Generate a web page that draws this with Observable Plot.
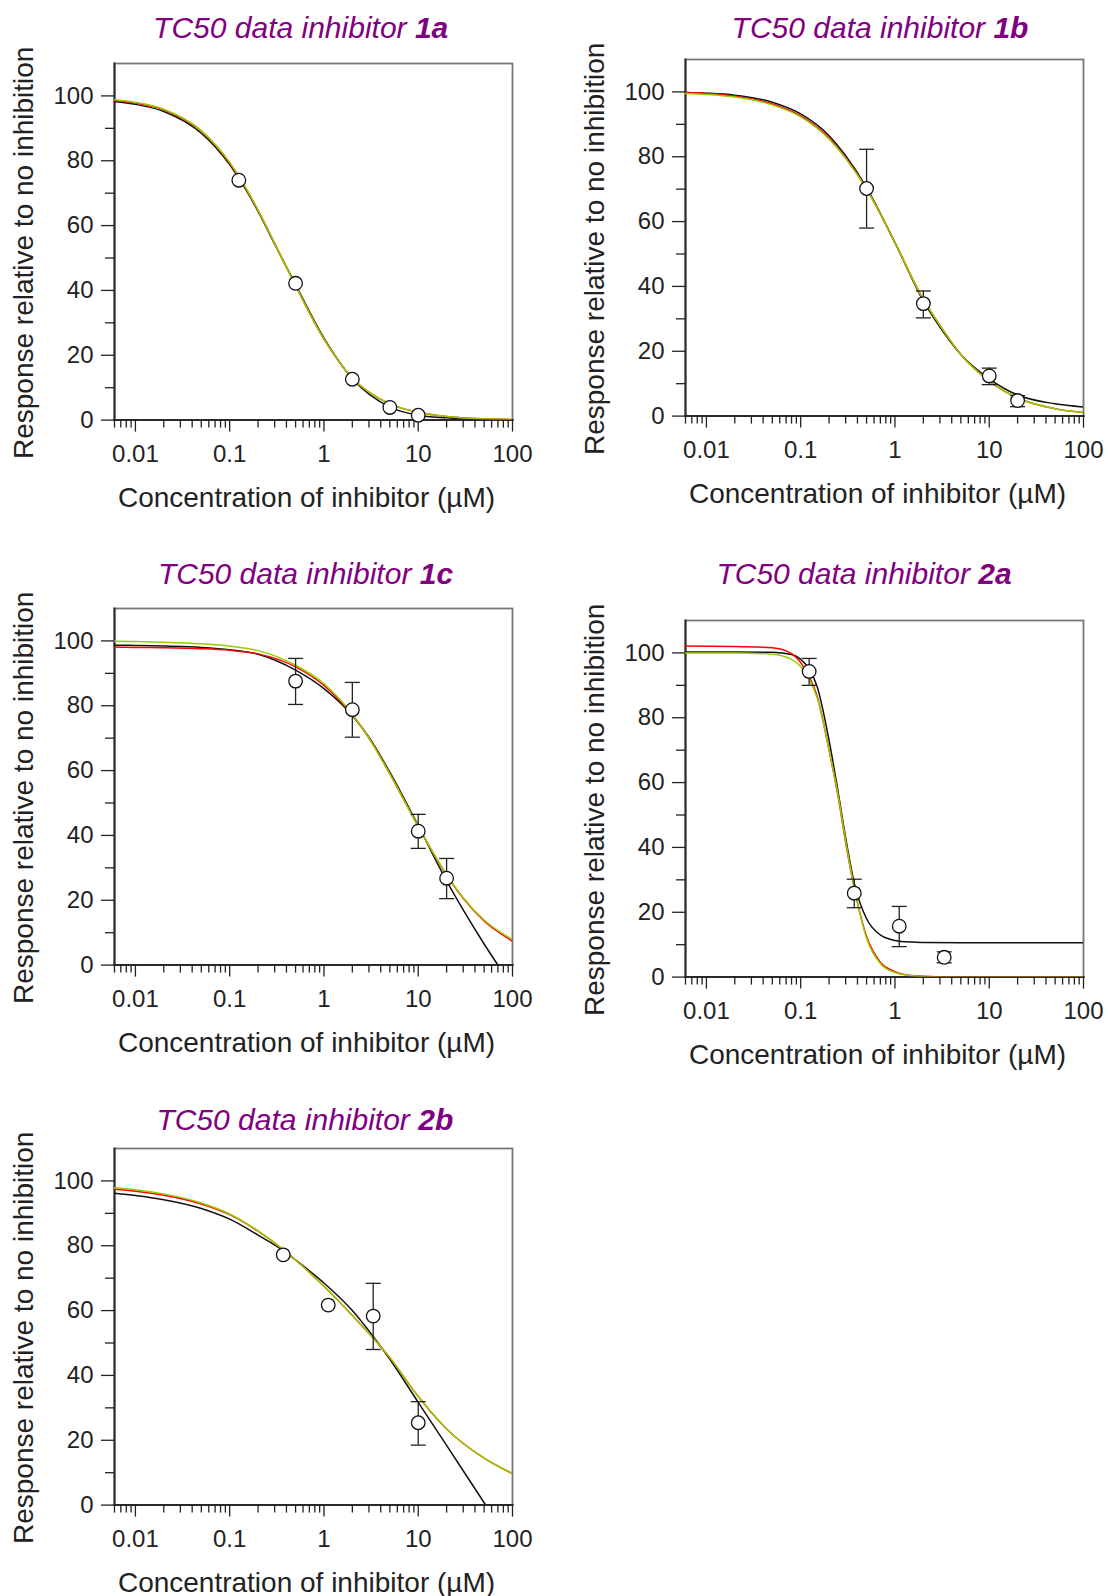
<!DOCTYPE html>
<html>
<head>
<meta charset="utf-8">
<script src="https://cdn.jsdelivr.net/npm/d3@7"></script>
<script src="https://cdn.jsdelivr.net/npm/@observablehq/plot@0.6"></script>
<style>
  html, body { margin: 0; padding: 0; background: #fff; }
  #page { position: relative; width: 1108px; height: 1596px; overflow: hidden;
          font-family: "Liberation Sans", Arial, Helvetica, sans-serif; }
  .panel { position: absolute; width: 554px; }
  .panel svg { max-width: none !important; }
  .title { position: absolute; font-size: 30px; line-height: 30px; color: #800080;
           font-style: italic; white-space: nowrap; transform: translateX(-50%); }
  .title b { font-weight: bold; }
</style>
</head>
<body>
<div id="page"></div>
<script>
// ---------- axis ticks & labels ----------
const xMajor = [0.01, 0.1, 1, 10, 100];
const xMinor = [0.006, 0.007, 0.008, 0.009,
                0.02, 0.03, 0.04, 0.05, 0.06, 0.07, 0.08, 0.09,
                0.2, 0.3, 0.4, 0.5, 0.6, 0.7, 0.8, 0.9,
                2, 3, 4, 5, 6, 7, 8, 9,
                20, 30, 40, 50, 60, 70, 80, 90];
const yMajor = [0, 20, 40, 60, 80, 100];
const yMinor = [10, 30, 50, 70, 90];
const xLabel = "Concentration of inhibitor (µM)";
const yLabel = "Response relative to no inhibition";
const titlePrefix = "TC50 data inhibitor ";
const compounds = ["1a", "1b", "1c", "2a", "2b"];

// ---------- inhibitor 1a ----------
const conc1a = [0.125, 0.5, 2, 5, 10];
const resp1a = [74, 42.2, 12.6, 3.9, 1.5];
const errLo1a = [null, null, null, null, null];
const errHi1a = [null, null, null, null, null];
const curveX1a = [0.006, 0.01, 0.02, 0.05, 0.1, 0.2, 0.3, 0.5, 1, 2, 5, 10, 20, 50, 100];
const green1a  = [98.8, 98.0, 95.9, 89.3, 79.5, 64.8, 54.5, 41.5, 25, 13, 5, 2.4, 1.1, 0.4, 0.2];
const red1a    = [98.6, 97.8, 95.7, 89.1, 79.3, 64.7, 54.5, 41.5, 25, 13, 5, 2.4, 1.1, 0.4, 0.2];
const blackX1a = curveX1a;
const black1a  = [98.3, 97.4, 95.2, 88.5, 78.8, 64.4, 54.3, 41.8, 25.3, 12.8, 4, 1.5, 0.7, 0.2, 0.05];

// ---------- inhibitor 1b ----------
const conc1b = [0.5, 2, 10, 20];
const resp1b = [70.2, 34.7, 12.4, 4.8];
const errLo1b = [58, 30.3, 9.7, 2.9];
const errHi1b = [82.3, 38.6, 14.8, 6.3];
const curveX1b = [0.006, 0.01, 0.02, 0.05, 0.1, 0.2, 0.3, 0.5, 1, 2, 3, 5, 10, 20, 50, 100];
const green1b  = [99.5, 99.2, 98.4, 96, 92.3, 85.5, 79.5, 70, 53.5, 36, 28, 19, 10.8, 5.6, 2.3, 1.1];
const red1b    = [99.8, 99.5, 98.7, 96.3, 92.6, 85.8, 79.7, 70.1, 53.5, 36, 28, 19, 10.8, 5.6, 2.3, 1.1];
const blackX1b = curveX1b;
const black1b  = [99.8, 99.6, 99, 96.8, 93.2, 86.5, 80.3, 70.5, 53.5, 35.5, 27.5, 19, 11.5, 6.5, 3.8, 2.8];

// ---------- inhibitor 1c ----------
const conc1c = [0.5, 2, 10, 20];
const resp1c = [87.6, 78.8, 41.3, 26.8];
const errLo1c = [80.4, 70.3, 36, 20.5];
const errHi1c = [94.6, 87.2, 46.5, 32.9];
const curveX1c = [0.006, 0.01, 0.02, 0.05, 0.1, 0.2, 0.5, 1, 2, 3, 5, 10, 20, 30, 50, 100];
const green1c  = [99.9, 99.8, 99.6, 99.1, 98.4, 97, 92.5, 86.8, 77.4, 70, 59, 42.7, 27.9, 20.8, 13.9, 7.9];
const red1c    = [98.1, 98.0, 97.9, 97.6, 97.1, 96, 92, 86.3, 77.2, 70, 59, 42.7, 27.8, 20.6, 13.6, 7.4];
const blackX1c = [0.006, 0.01, 0.02, 0.05, 0.1, 0.2, 0.5, 1, 2, 3, 5, 10, 20, 30, 50, 70];
const black1c  = [98.7, 98.6, 98.4, 98, 97.3, 95.9, 91, 85.3, 77, 70.3, 59.5, 43, 26, 17, 6.5, 0];

// ---------- inhibitor 2a ----------
const conc2a = [0.123, 0.37, 1.11, 3.33];
const resp2a = [94.3, 25.9, 15.7, 6.1];
const errLo2a = [90, 21.4, 9.4, 4.4];
const errHi2a = [98.3, 30.2, 21.8, 7.8];
const curveX2a = [0.006, 0.02, 0.05, 0.08, 0.1, 0.123, 0.15, 0.2, 0.25, 0.3, 0.37, 0.5, 0.7, 1, 1.5, 2, 5, 100];
const green2a  = [100, 100, 99.6, 98, 95.8, 92, 86, 70, 56, 42, 27.5, 12, 4.2, 1.4, 0.4, 0.2, 0, 0];
const red2a    = [102.1, 102, 101.6, 99.8, 97, 92.8, 86.5, 70, 55.5, 41.5, 27.5, 12.5, 4.6, 1.7, 0.5, 0.3, 0, 0];
const blackX2a = curveX2a;
const black2a  = [100.3, 100.3, 100.2, 99.5, 98, 95, 89.5, 73, 57, 43, 29, 18, 13, 11.3, 10.8, 10.7, 10.6, 10.6];

// ---------- inhibitor 2b ----------
const conc2b = [0.37, 1.11, 3.33, 10];
const resp2b = [77.2, 61.7, 58.3, 25.4];
const errLo2b = [null, null, 48, 18.5];
const errHi2b = [null, null, 68.4, 31.9];
const curveX2b = [0.006, 0.01, 0.02, 0.05, 0.1, 0.2, 0.37, 0.5, 1, 2, 3.33, 5, 10, 20, 50, 100];
const green2b  = [97.9, 97.3, 96.0, 93.2, 89.8, 84.6, 78.8, 75.6, 67.5, 58.5, 51.5, 45.5, 33.5, 23.5, 14.5, 9.8];
const red2b    = [97.4, 96.8, 95.6, 92.9, 89.6, 84.5, 78.8, 75.6, 67.5, 58.5, 51.5, 45.5, 33.5, 23.5, 14.5, 9.7];
const blackX2b = [0.006, 0.01, 0.02, 0.05, 0.1, 0.2, 0.37, 0.5, 1, 2, 3.33, 5, 10, 20, 30, 52];
const black2b  = [96.2, 95.5, 94.2, 91.5, 88.2, 83.3, 78.5, 75.6, 68.5, 60, 52, 45, 31.7, 18.4, 10.6, 0];

// ---------- assemble ----------
const series = {
  "1a": {conc: conc1a, resp: resp1a, lo: errLo1a, hi: errHi1a, cx: curveX1a, green: green1a, red: red1a, bx: blackX1a, black: black1a},
  "1b": {conc: conc1b, resp: resp1b, lo: errLo1b, hi: errHi1b, cx: curveX1b, green: green1b, red: red1b, bx: blackX1b, black: black1b},
  "1c": {conc: conc1c, resp: resp1c, lo: errLo1c, hi: errHi1c, cx: curveX1c, green: green1c, red: red1c, bx: blackX1c, black: black1c},
  "2a": {conc: conc2a, resp: resp2a, lo: errLo2a, hi: errHi2a, cx: curveX2a, green: green2a, red: red2a, bx: blackX2a, black: black2a},
  "2b": {conc: conc2b, resp: resp2b, lo: errLo2b, hi: errHi2b, cx: curveX2b, green: green2b, red: red2b, bx: blackX2b, black: black2b}
};

// layout (page pixel positions)
const layout = {
  "1a": {left: 0,     top: 0.7,    titleX: 300.7, titleBase: 38.3},
  "1b": {left: 570.7, top: -3,     titleX: 880,   titleBase: 38.3},
  "1c": {left: 0,     top: 545.7,  titleX: 305.5, titleBase: 584.5},
  "2a": {left: 570.7, top: 558,    titleX: 864,   titleBase: 584.5},
  "2b": {left: 0,     top: 1085.5, titleX: 304.8, titleBase: 1130}
};

const ink = "#222";
const FONT = '"Liberation Sans", Arial, Helvetica, sans-serif';
const capSymbol = {
  draw(context, size) {
    const w = Math.sqrt(size / Math.PI);
    context.moveTo(-w, 0);
    context.lineTo(w, 0);
  }
};

const page = document.getElementById("page");

for (const id of compounds) {
  const s = series[id];
  const L = layout[id];
  const pts = s.conc.map((c, i) => ({x: c, y: s.resp[i], lo: s.lo[i], hi: s.hi[i]}));
  const errPts = pts.filter(d => d.lo != null);
  const caps = errPts.flatMap(d => [{x: d.x, y: d.lo}, {x: d.x, y: d.hi}]);
  const greenLine = s.cx.map((x, i) => ({x, y: s.green[i]}));
  const redLine = s.cx.map((x, i) => ({x, y: s.red[i]}));
  const blackLine = s.bx.map((x, i) => ({x, y: s.black[i]}));

  const height = 518;
  const frameH = 356.6;
  const chart = Plot.plot({
    width: 554,
    height,
    marginLeft: 114,
    marginRight: 42,
    marginTop: 62,
    marginBottom: height - 62 - frameH,
    style: {fontFamily: FONT, fontSize: "24px", background: "transparent", overflow: "visible", color: ink},
    x: {type: "log", domain: [0.006, 100], label: null},
    y: {domain: [0, 110], label: null},
    marks: [
      Plot.frame({stroke: "#777", strokeWidth: 1.8}),
      Plot.frame({anchor: "left", stroke: "#2a2a2a", strokeWidth: 2}),
      Plot.frame({anchor: "bottom", stroke: "#2a2a2a", strokeWidth: 2}),
      Plot.axisX(xMajor, {tickSize: 12, tickPadding: 13, tickFormat: d => String(d), fontSize: 24,
                          stroke: ink, fill: ink, strokeWidth: 1.3, label: null}),
      Plot.axisX(xMinor, {tickSize: 8, tickFormat: () => "", stroke: ink, strokeWidth: 1.3, label: null}),
      Plot.axisY(yMajor, {tickSize: 13, tickPadding: 8, tickFormat: d => String(d), fontSize: 24,
                          stroke: ink, fill: ink, strokeWidth: 1.3, label: null}),
      Plot.axisY(yMinor, {tickSize: 9, tickFormat: () => "", stroke: ink, strokeWidth: 1.3, label: null}),
      Plot.line(blackLine, {x: "x", y: "y", stroke: "#111", strokeWidth: 1.5, curve: "monotone-x", clip: true}),
      Plot.line(redLine, {x: "x", y: "y", stroke: "#ff0000", strokeWidth: 1.5, curve: "monotone-x", clip: true}),
      Plot.line(greenLine, {x: "x", y: "y", stroke: "#99cc00", strokeWidth: 1.5, curve: "monotone-x", clip: true}),
      Plot.ruleX(errPts, {x: "x", y1: "lo", y2: "hi", stroke: ink, strokeWidth: 1.3}),
      Plot.dot(caps, {x: "x", y: "y", symbol: capSymbol, r: 7.5, stroke: ink, strokeWidth: 1.3, fill: "none"}),
      Plot.dot(pts, {x: "x", y: "y", r: 6.8, fill: "white", stroke: "#111", strokeWidth: 1.3}),
      Plot.text([yLabel], {frameAnchor: "left", text: d => d, rotate: -90, dx: -90, dy: 11,
                           fontSize: 28, fill: ink, textAnchor: "middle", lineAnchor: "middle"}),
      Plot.text([xLabel], {frameAnchor: "bottom", text: d => d, dx: -7, dy: 77.7,
                           fontSize: 28, fill: ink, textAnchor: "middle", lineAnchor: "middle"})
    ]
  });

  const div = document.createElement("div");
  div.className = "panel";
  div.style.left = L.left + "px";
  div.style.top = L.top + "px";
  div.appendChild(chart);
  page.appendChild(div);

  const title = document.createElement("div");
  title.className = "title";
  title.style.left = L.titleX + "px";
  title.style.top = (L.titleBase - 25.4) + "px";
  title.appendChild(document.createTextNode(titlePrefix));
  const b = document.createElement("b");
  b.textContent = id;
  title.appendChild(b);
  page.appendChild(title);
}
</script>
</body>
</html>
